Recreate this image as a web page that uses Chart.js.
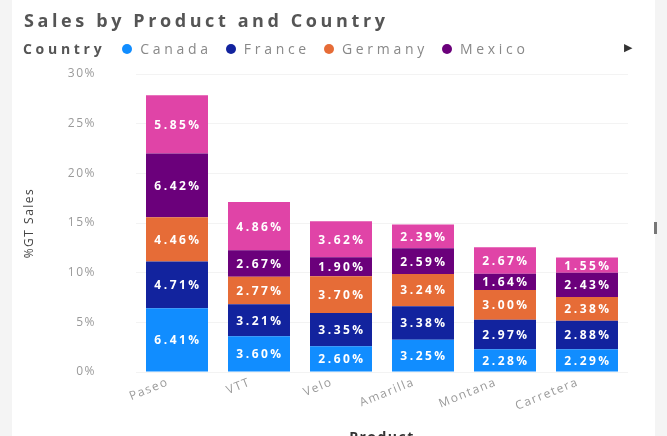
<!DOCTYPE html>
<html>
<head>
<meta charset="utf-8">
<title>Sales by Product and Country</title>
<script src="https://cdn.jsdelivr.net/npm/chart.js@4/dist/chart.umd.min.js"></script>
<style>
	body { margin: 0; background: #fff; }
	#wrap { position: relative; width: 667px; height: 436px; overflow: hidden; background: #fff; }
	#salesChart { position: absolute; left: 0; top: 0; }
	#title { position: absolute; left: 24px; top: 8px; font: bold 18px "Open Sans", sans-serif; letter-spacing: 3.6px; color: #555; }
	#legend { position: absolute; left: 23px; top: 39px; display: flex; align-items: center; white-space: nowrap; font: 14px "Open Sans", sans-serif; letter-spacing: 3.7px; color: #888; }
	#legend .head { font-weight: bold; color: #555; margin-right: 17px; }
	#legend .item { display: flex; align-items: center; margin-right: 14px; }
	#legend .dot { width: 10px; height: 10px; border-radius: 50%; margin-right: 8px; }
	#legend-next { position: absolute; left: 624px; top: 41px; font: 11px "DejaVu Sans", sans-serif; color: #333; }
	.side { position: absolute; top: 0; height: 436px; background: #f4f4f4; }
	#scroll-mark { position: absolute; left: 654px; top: 222px; width: 3px; height: 12px; background: #777; }
</style>
</head>
<body>
<div id="wrap">
	<div class="side" style="left:0;width:12px"></div>
	<div class="side" style="left:655px;width:12px"></div>
	<canvas id="salesChart" width="667" height="436"></canvas>
	<div id="title">Sales by Product and Country</div>
	<div id="legend"><span class="head">Country</span></div>
	<div id="legend-next">&#9654;</div>
	<div id="scroll-mark"></div>
</div>
<script>
// products on the x axis
const products = ["Paseo", "VTT", "Velo", "Amarilla", "Montana", "Carretera"];

// countries (stack order, bottom to top)
const countries = ["Canada", "France", "Germany", "Mexico", "United States of America"];
const countryColors = ["#118DFF", "#12239E", "#E66C37", "#6B007B", "#E044A7"];

// % of grand total sales, one array per country
const canadaSales = [6.41, 3.60, 2.60, 3.25, 2.28, 2.29];
const franceSales = [4.71, 3.21, 3.35, 3.38, 2.97, 2.88];
const germanySales = [4.46, 2.77, 3.70, 3.24, 3.00, 2.38];
const mexicoSales = [6.42, 2.67, 1.90, 2.59, 1.64, 2.43];
const usaSales = [5.85, 4.86, 3.62, 2.39, 2.67, 1.55];

// y axis ticks
const yTicks = [0, 5, 10, 15, 20, 25, 30];

// legend only shows the first four, the rest sits behind the arrow
const legendCount = 4;

const seriesValues = [canadaSales, franceSales, germanySales, mexicoSales, usaSales];

// ------------------------------ legend ------------------------------
const legendBox = document.getElementById("legend");
countries.slice(0, legendCount).forEach((name, i) => {
	const item = document.createElement("span");
	item.className = "item";
	item.innerHTML = `<span class="dot" style="background:${countryColors[i]}"></span>${name}`;
	legendBox.appendChild(item);
});

// ------------------------------ wide axis text ------------------------------
// the axis text is spaced out, so set it on the context before layout and draw
const spacedText = {
	id: "spacedText",
	beforeUpdate(chart) { chart.ctx.letterSpacing = "1.5px"; },
	beforeLayout(chart) { chart.ctx.letterSpacing = "1.5px"; },
	beforeDraw(chart) { chart.ctx.letterSpacing = "1.5px"; }
};

// ------------------------------ value labels in bars ------------------------------
const barLabels = {
	id: "barLabels",
	afterDatasetsDraw(chart) {
		const ctx = chart.ctx;
		ctx.save();
		ctx.font = 'bold 12px "Open Sans", sans-serif';
		ctx.letterSpacing = "2.5px";
		ctx.fillStyle = "#fff";
		ctx.textAlign = "center";
		ctx.textBaseline = "middle";
		chart.data.datasets.forEach((ds, i) => {
			chart.getDatasetMeta(i).data.forEach((bar, j) => {
				const p = bar.getProps(["x", "y", "base"], true);
				ctx.fillText(ds.data[j].toFixed(2) + "%", p.x + 1, (p.y + p.base) / 2 + 1);
			});
		});
		ctx.restore();
	}
};

// ------------------------------ chart ------------------------------
const salesChart = document.getElementById("salesChart");
new Chart(salesChart, {
	type: "bar",
	data: {
		labels: products,
		datasets: countries.map((name, i) => ({
			label: name,
			data: seriesValues[i],
			backgroundColor: countryColors[i],
			borderWidth: 0,
			categoryPercentage: 0.756,
			barPercentage: 1
		}))
	},
	options: {
		responsive: false,
		animation: false,
		layout: { padding: { top: 74, right: 39, left: 0, bottom: 0 } },
		plugins: {
			legend: { display: false },
			tooltip: { enabled: false }
		},
		scales: {
			x: {
				stacked: true,
				afterFit: (scale) => { scale.height = 64; },
				grid: { display: false },
				border: { display: false },
				ticks: {
					color: "#9a9a9a",
					font: { family: "Open Sans", size: 12 },
					minRotation: 22,
					maxRotation: 22,
					padding: -5,
					labelOffset: -9
				},
				title: {
					display: true,
					text: "Product",
					color: "#333",
					font: { family: "Open Sans", size: 14, weight: "bold" },
					padding: { top: 0, bottom: -10 }
				}
			},
			y: {
				stacked: true,
				min: 0,
				max: 30,
				afterFit: (scale) => { scale.width = 136; },
				afterBuildTicks: (scale) => { scale.ticks = yTicks.map(v => ({ value: v })); },
				grid: { color: "#f3f3f3", drawTicks: false },
				border: { display: false },
				ticks: {
					color: "#9a9a9a",
					font: { family: "Open Sans", size: 12 },
					padding: 40,
					callback: (v) => v + "%"
				},
				title: {
					display: true,
					text: "%GT Sales",
					color: "#444",
					font: { family: "Open Sans", size: 12 },
					padding: { top: 22, bottom: 0 }
				}
			}
		}
	},
	plugins: [spacedText, barLabels]
});
</script>
</body>
</html>
